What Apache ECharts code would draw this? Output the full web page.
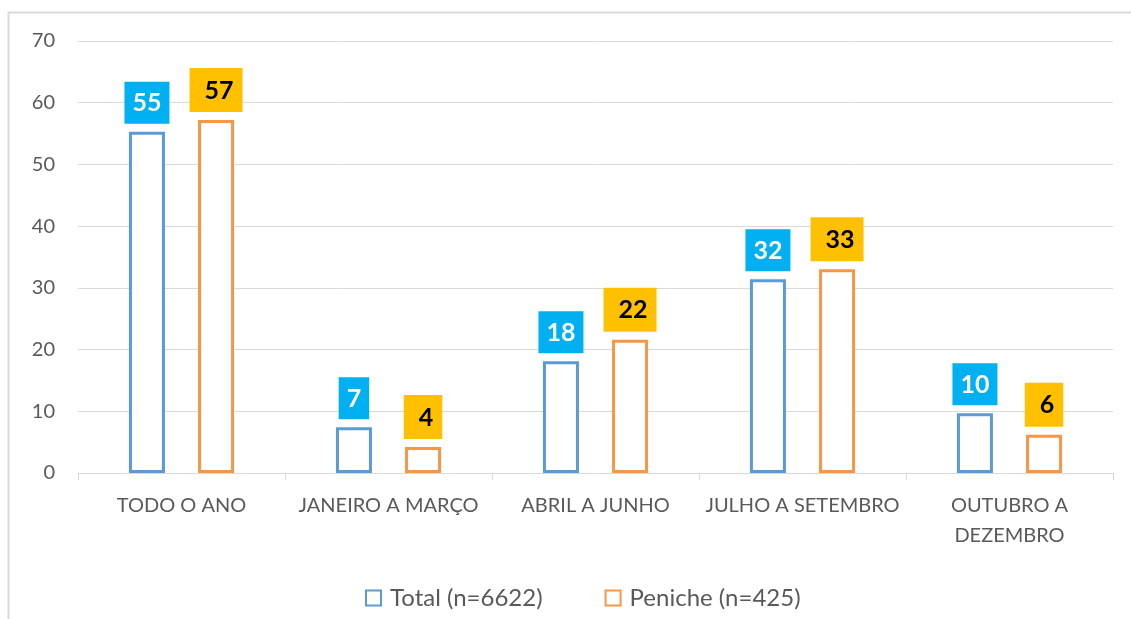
<!DOCTYPE html>
<html>
<head>
<meta charset="utf-8">
<script src="https://cdn.jsdelivr.net/npm/echarts@6/dist/echarts.min.js"></script>
<style>
  html, body { margin: 0; padding: 0; background: #fff; }
  #main { width: 1131px; height: 619px; }
</style>
</head>
<body>
<div id="main"></div>
<script>
// data
var categories = ['TODO O ANO', 'JANEIRO A MARÇO', 'ABRIL A JUNHO', 'JULHO A SETEMBRO', 'OUTUBRO A\nDEZEMBRO'];
var totalValues = [55.3, 7.4, 18.1, 31.4, 9.7];
var penicheValues = [57.2, 4.2, 21.6, 33.0, 6.2];
var totalLabels = [55, 7, 18, 32, 10];
var penicheLabels = [57, 4, 22, 33, 6];
var seriesNames = ['Total (n=6622)', 'Peniche (n=425)'];

var chart = echarts.init(document.getElementById('main'));
var font = 'Lato, "Liberation Sans", sans-serif';

var option = {
  animation: false,
  textStyle: { fontFamily: font },
  graphic: [{
    type: 'rect',
    shape: { x: 8.5, y: 12.5, width: 1400, height: 800 },
    style: { fill: 'none', stroke: '#d9d9d9', lineWidth: 2 },
    silent: true
  }],
  grid: { left: 78, right: 18, top: 41, bottom: 146 },
  legend: {
    bottom: 4,
    left: 360,
    itemWidth: 15,
    itemHeight: 15,
    itemGap: 62,
    icon: 'rect',
    textStyle: { fontSize: 24, color: '#595959', fontFamily: font, padding: [0, 0, 0, 4] },
    data: seriesNames
  },
  xAxis: {
    type: 'category',
    data: categories,
    axisLine: { lineStyle: { color: '#d9d9d9' } },
    axisTick: { show: true, length: 7, lineStyle: { color: '#d9d9d9' } },
    axisLabel: { interval: 0, color: '#595959', fontSize: 20, margin: 18, lineHeight: 30, fontFamily: font }
  },
  yAxis: {
    type: 'value',
    min: 0,
    max: 70,
    interval: 10,
    axisLine: { show: false },
    axisTick: { show: false },
    splitLine: { lineStyle: { color: '#d9d9d9' } },
    axisLabel: { color: '#595959', fontSize: 20, margin: 23, fontFamily: font }
  },
  series: [{
    name: seriesNames[0],
    type: 'bar',
    data: totalValues,
    barWidth: 36,
    barGap: '92%',
    itemStyle: { color: '#fff', borderColor: '#5B9BD5', borderWidth: 3 },
    label: {
      show: true,
      position: 'top',
      distance: 8,
      formatter: function (p) { return totalLabels[p.dataIndex]; },
      backgroundColor: '#00B0F0',
      color: '#fff',
      fontWeight: 'bold',
      fontSize: 25,
      lineHeight: 25,
      fontFamily: font,
      padding: [9, 8, 8, 8]
    }
  }, {
    name: seriesNames[1],
    type: 'bar',
    data: penicheValues,
    barWidth: 36,
    itemStyle: { color: '#fff', borderColor: '#F79646', borderWidth: 3 },
    label: {
      show: true,
      position: 'top',
      distance: 8,
      formatter: function (p) { return penicheLabels[p.dataIndex]; },
      backgroundColor: '#FFC000',
      color: '#000',
      fontWeight: 'bold',
      fontSize: 25,
      lineHeight: 25,
      fontFamily: font,
      padding: [10, 9, 9, 15]
    }
  }]
};

chart.setOption(option);
</script>
</body>
</html>
